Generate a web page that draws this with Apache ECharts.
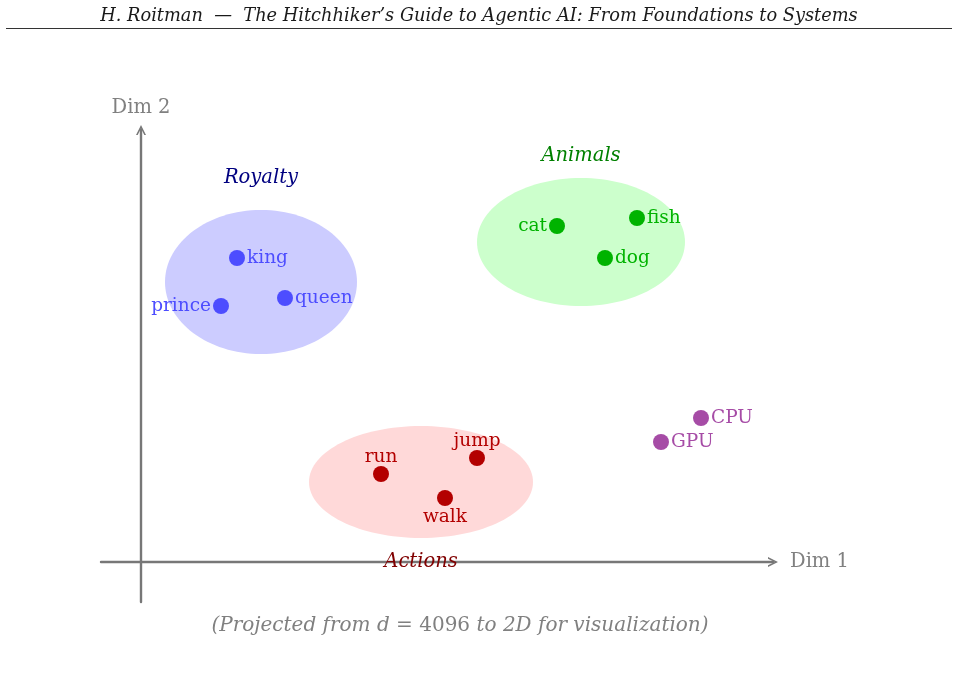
<!DOCTYPE html>
<html>
<head>
<meta charset="utf-8">
<script src="https://cdn.jsdelivr.net/npm/echarts@6/dist/echarts.min.js"></script>
<style>html,body{margin:0;padding:0;background:#fff;}#c{width:959px;height:676px;}</style>
</head>
<body>
<div id="c"></div>
<script>
// ---- data ----
const words = ['king', 'queen', 'prince', 'cat', 'fish', 'dog', 'run', 'jump', 'walk', 'CPU', 'GPU'];
const wordX = [2.4, 3.6, 2.0, 10.4, 12.4, 11.6, 6.0, 8.4, 7.6, 14.0, 13.0];
const wordY = [7.6, 6.6, 6.4, 8.4, 8.6, 7.6, 2.2, 2.6, 1.6, 3.6, 3.0];
const wordGroup = ['Royalty', 'Royalty', 'Royalty', 'Animals', 'Animals', 'Animals', 'Actions', 'Actions', 'Actions', 'Hardware', 'Hardware'];
const wordLabelSide = ['right', 'right', 'left', 'left', 'right', 'right', 'top', 'top', 'bottom', 'right', 'right'];

const clusterNames = ['Royalty', 'Animals', 'Actions'];
const clusterCX = [3, 11, 7];
const clusterCY = [7, 8, 2];
const clusterRX = [2.4, 2.6, 2.8];
const clusterRY = [1.8, 1.6, 1.4];
const clusterLabelX = [3, 11, 7];
const clusterLabelY = [9.6, 10.15, 0];

const axisX = [-1, 15.8];
const axisY = [-1, 10.8];

// ---- styles ----
const FONT = "'DejaVu Serif', 'Liberation Serif', serif";
const groupColor = { Royalty: '#4d4dff', Animals: '#00b300', Actions: '#b30000', Hardware: '#a64ca6' };
const fillColor = { Royalty: '#ccccff', Animals: '#ccffcc', Actions: '#ffd9d9' };
const titleColor = { Royalty: '#000080', Animals: '#008000', Actions: '#800000' };
const groups = ['Royalty', 'Animals', 'Actions', 'Hardware'];
const UNIT = 40; // px per data unit
const ORIGIN = [141, 562];
const labelDistance = { left: 2, right: 2, top: -1, bottom: 2 };

const chart = echarts.init(document.getElementById('c'), null, { renderer: 'canvas' });

const chevron = 'path://M0,10 L5,0 L10,10 L8.3,10 L5,3.4 L1.7,10 Z';
const axisLineStyle = { color: '#777777', width: 2.4 };

const scatterSeries = groups.map(g => ({
  type: 'scatter',
  name: g,
  symbolSize: 16,
  z: 5,
  itemStyle: { color: groupColor[g], opacity: 1 },
  data: words.map((w, i) => ({ w, i })).filter(o => wordGroup[o.i] === g).map(o => ({
    value: [wordX[o.i], wordY[o.i]],
    name: o.w,
    label: {
      show: true,
      formatter: o.w,
      position: wordLabelSide[o.i],
      distance: labelDistance[wordLabelSide[o.i]],
      color: groupColor[g],
      fontFamily: FONT,
      fontSize: 18.5
    }
  }))
}));

const gridLeft = ORIGIN[0] + axisX[0] * UNIT;
const gridTop = ORIGIN[1] - axisY[1] * UNIT;

const option = {
  animation: false,
  backgroundColor: '#ffffff',
  grid: { left: gridLeft, top: gridTop, width: (axisX[1] - axisX[0]) * UNIT, height: (axisY[1] - axisY[0]) * UNIT, containLabel: false },
  xAxis: {
    type: 'value', min: axisX[0], max: axisX[1],
    name: 'Dim 1', nameLocation: 'end', nameGap: 17,
    nameTextStyle: { color: '#808080', fontFamily: FONT, fontSize: 19.5, verticalAlign: 'middle', padding: [2, 0, 0, 0] },
    axisLine: { onZero: true, lineStyle: axisLineStyle, symbol: ['none', chevron], symbolSize: [17, 10], symbolOffset: [0, 0] },
    axisTick: { show: false }, axisLabel: { show: false }, splitLine: { show: false }
  },
  yAxis: {
    type: 'value', min: axisY[0], max: axisY[1],
    name: 'Dim 2', nameLocation: 'end', nameGap: 12,
    nameTextStyle: { color: '#808080', fontFamily: FONT, fontSize: 19.5 },
    axisLine: { onZero: true, lineStyle: axisLineStyle, symbol: ['none', chevron], symbolSize: [17, 10], symbolOffset: [0, 0] },
    axisTick: { show: false }, axisLabel: { show: false }, splitLine: { show: false }
  },
  graphic: [
    { type: 'text', x: 479, y: 16, style: { text: 'H. Roitman  —  The Hitchhiker\u2019s Guide to Agentic AI: From Foundations to Systems', align: 'center', verticalAlign: 'middle', font: 'italic 17.8px ' + FONT, fill: '#1a1a1a' } },
    { type: 'line', shape: { x1: 6, y1: 28.5, x2: 952, y2: 28.5 }, style: { stroke: '#333', lineWidth: 1.2 } },
    { type: 'text', x: 460, y: 626, style: {
      text: '{i|(Projected from }{i|d}{r| = 4096 }{i|to 2D for visualization)}',
      align: 'center', verticalAlign: 'middle',
      rich: {
        i: { fontStyle: 'italic', fontFamily: FONT, fontSize: 20, fill: '#808080', color: '#808080' },
        r: { fontFamily: FONT, fontSize: 20, fill: '#808080', color: '#808080' }
      }
    } }
  ],
  series: [
    {
      type: 'custom',
      name: 'clusters',
      z: 1,
      silent: true,
      data: clusterNames.map((n, i) => [clusterCX[i], clusterCY[i], clusterRX[i], clusterRY[i], i]),
      renderItem: (params, api) => {
        const c = api.coord([api.value(0), api.value(1)]);
        const s = api.size([api.value(2), api.value(3)]);
        const n = clusterNames[api.value(4)];
        return { type: 'ellipse', shape: { cx: c[0], cy: c[1], rx: s[0], ry: s[1] }, style: { fill: fillColor[n] } };
      }
    },
    {
      type: 'custom',
      name: 'clusterTitles',
      z: 6,
      silent: true,
      data: clusterNames.map((n, i) => [clusterLabelX[i], clusterLabelY[i], i]),
      renderItem: (params, api) => {
        const c = api.coord([api.value(0), api.value(1)]);
        const n = clusterNames[api.value(2)];
        return { type: 'text', x: c[0], y: c[1], style: { text: n, align: 'center', verticalAlign: 'middle', font: 'italic 19.5px ' + FONT, fill: titleColor[n] } };
      }
    }
  ].concat(scatterSeries)
};
chart.setOption(option);
</script>
</body>
</html>
